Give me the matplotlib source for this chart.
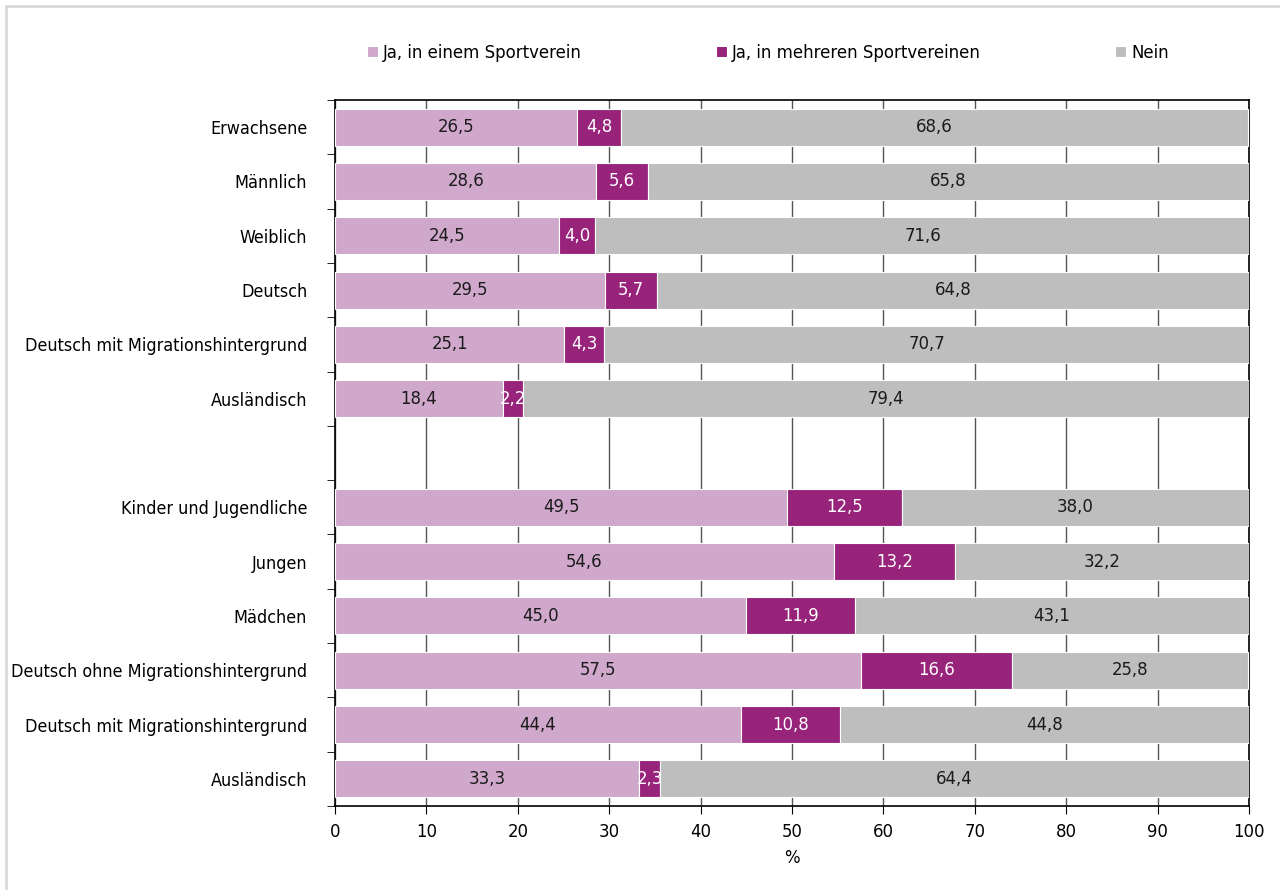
import numpy as np
import matplotlib.pyplot as plt
from matplotlib.patches import Rectangle

plt.rcParams['font.family'] = ['DejaVu Sans']
plt.rcParams['font.stretch'] = 'condensed'

# Kategorien (leerer Eintrag = Lücke zwischen den Gruppen)
categories = ['Erwachsene', 'Männlich', 'Weiblich', 'Deutsch',
              'Deutsch mit Migrationshintergrund', 'Ausländisch', '',
              'Kinder und Jugendliche', 'Jungen', 'Mädchen',
              'Deutsch ohne Migrationshintergrund',
              'Deutsch mit Migrationshintergrund', 'Ausländisch']
ja_einem = [26.5, 28.6, 24.5, 29.5, 25.1, 18.4, None,
            49.5, 54.6, 45.0, 57.5, 44.4, 33.3]
ja_mehreren = [4.8, 5.6, 4.0, 5.7, 4.3, 2.2, None,
               12.5, 13.2, 11.9, 16.6, 10.8, 2.3]
nein = [68.6, 65.8, 71.6, 64.8, 70.7, 79.4, None,
        38.0, 32.2, 43.1, 25.8, 44.8, 64.4]
series_names = ['Ja, in einem Sportverein', 'Ja, in mehreren Sportvereinen', 'Nein']
colors = ['#D0A8CC', '#97237B', '#BEBEBE']
text_colors = ['#1a1a1a', 'white', '#1a1a1a']
fs = 13.2

fig = plt.figure(figsize=(12.8, 8.9), dpi=100)
ax = fig.add_axes([335/1280, 1 - 806/890, (1249-335)/1280, (806-100)/890])

# Rahmen um die Grafik
fig.patches.append(Rectangle((6/1280, -0.01), 1.0, 1 - 6/890 + 0.01, transform=fig.transFigure,
                             fill=False, edgecolor='#d9d9d9', linewidth=2))

y = np.arange(len(categories))
idx = [i for i, v in enumerate(ja_einem) if v is not None]
data = [ja_einem, ja_mehreren, nein]
left = np.zeros(len(idx))
for k, (vals, name) in enumerate(zip(data, series_names)):
    v = np.array([vals[i] for i in idx])
    ax.barh(y[idx], v, left=left, height=0.68, color=colors[k], edgecolor='white',
            linewidth=0.8, label=name, zorder=3)
    for yi, l, w in zip(y[idx], left, v):
        ax.text(l + w / 2, yi, f'{w:.1f}'.replace('.', ','), ha='center', va='center',
                fontsize=fs, color=text_colors[k], zorder=4)
    left = left + v

ax.set_xlim(0, 100)
ax.set_ylim(len(categories) - 0.5, -0.5)
ax.set_xticks(np.arange(0, 101, 10))
ax.tick_params(axis='x', labelsize=fs, length=6, direction='out', pad=6)
ax.set_yticks(y)
ax.set_yticklabels(categories, fontsize=12.9)
ax.tick_params(axis='y', length=0, pad=20)
ax.set_yticks(np.arange(len(categories) + 1) - 0.5, minor=True)
ax.tick_params(axis='y', which='minor', length=6, direction='out')
ax.grid(axis='x', color='#555555', linewidth=1, zorder=0)
for s in ax.spines.values():
    s.set_linewidth(1.2)
    s.set_color('black')
ax.set_xlabel('%', fontsize=fs, labelpad=6)

handles, labels = ax.get_legend_handles_labels()
fig.legend(handles, labels, loc='center left', bbox_to_anchor=(350/1280, 1 - 53/890), ncol=3,
           frameon=False, fontsize=fs, handlelength=0.6, handleheight=0.6, handletextpad=0.3,
           columnspacing=7.3)

fig.savefig('out.png', dpi=100)
